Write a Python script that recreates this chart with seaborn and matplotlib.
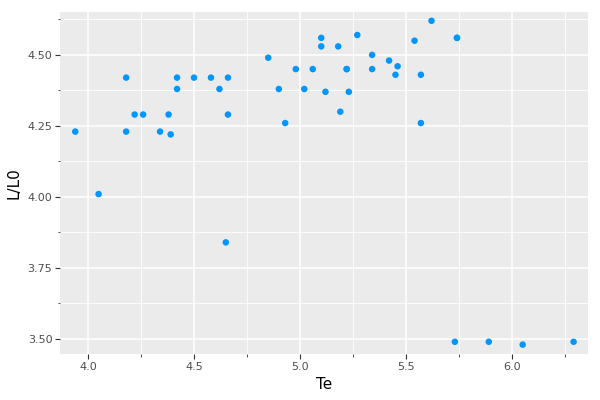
import matplotlib
matplotlib.use("Agg")
import matplotlib.pyplot as plt
import seaborn as sns
import pandas as pd
from matplotlib.ticker import MultipleLocator, FormatStrFormatter

te = [5.23, 5.74, 4.93, 5.74, 5.19, 5.46, 4.65, 5.27, 5.57, 5.12,
      5.73, 5.45, 5.42, 4.05, 4.26, 4.58, 3.94, 4.18, 4.18, 5.89,
      4.38, 4.22, 4.42, 4.85, 5.02, 4.66, 4.66, 4.90, 4.39, 6.05,
      4.42, 5.10, 5.22, 6.29, 4.34, 5.62, 5.10, 5.22, 5.18, 5.57,
      4.62, 5.06, 5.34, 5.34, 5.54, 4.98, 4.50]
lum = [4.37, 4.56, 4.26, 4.56, 4.30, 4.46, 3.84, 4.57, 4.26, 4.37,
       3.49, 4.43, 4.48, 4.01, 4.29, 4.42, 4.23, 4.42, 4.23, 3.49,
       4.29, 4.29, 4.42, 4.49, 4.38, 4.42, 4.29, 4.38, 4.22, 3.48,
       4.38, 4.56, 4.45, 3.49, 4.23, 4.62, 4.53, 4.45, 4.53, 4.43,
       4.38, 4.45, 4.50, 4.45, 4.55, 4.45, 4.42]

df = pd.DataFrame({"Te": te, "L/L0": lum})

sns.set_theme(style="darkgrid")
plt.rcParams["font.family"] = ["DejaVu Sans"]

fig = plt.figure(figsize=(6, 4), dpi=100)
ax = fig.add_axes([0.1, 0.115, 0.88, 0.855])
ax.set_facecolor("#EBEBEB")

sns.scatterplot(data=df, x="Te", y="L/L0", ax=ax, color="#0096FF",
                s=22, edgecolor="none", linewidth=0, zorder=3)

ax.set_xlim(3.868, 6.358)
ax.set_ylim(3.447, 4.651)
ax.xaxis.set_major_locator(MultipleLocator(0.5))
ax.xaxis.set_minor_locator(MultipleLocator(0.25))
ax.yaxis.set_major_locator(MultipleLocator(0.25))
ax.yaxis.set_minor_locator(MultipleLocator(0.125))
ax.xaxis.set_major_formatter(FormatStrFormatter("%.1f"))
ax.yaxis.set_major_formatter(FormatStrFormatter("%.2f"))

ax.grid(which="major", color="white", linewidth=1.1)
ax.grid(which="minor", color="white", linewidth=0.6)
for s in ax.spines.values():
    s.set_visible(False)

ax.tick_params(which="major", length=3.5, width=0.8, color="#333333",
               labelsize=8, labelcolor="#4D4D4D", pad=2, direction="out",
               bottom=True, left=True)
ax.tick_params(which="minor", length=1.8, width=0.6, color="#333333",
               bottom=True, left=True)

ax.set_xlabel("Te", fontsize=11, color="black", labelpad=4)
ax.set_ylabel("L/L0", fontsize=11, color="black", labelpad=4)

fig.savefig("out.png", dpi=100)
